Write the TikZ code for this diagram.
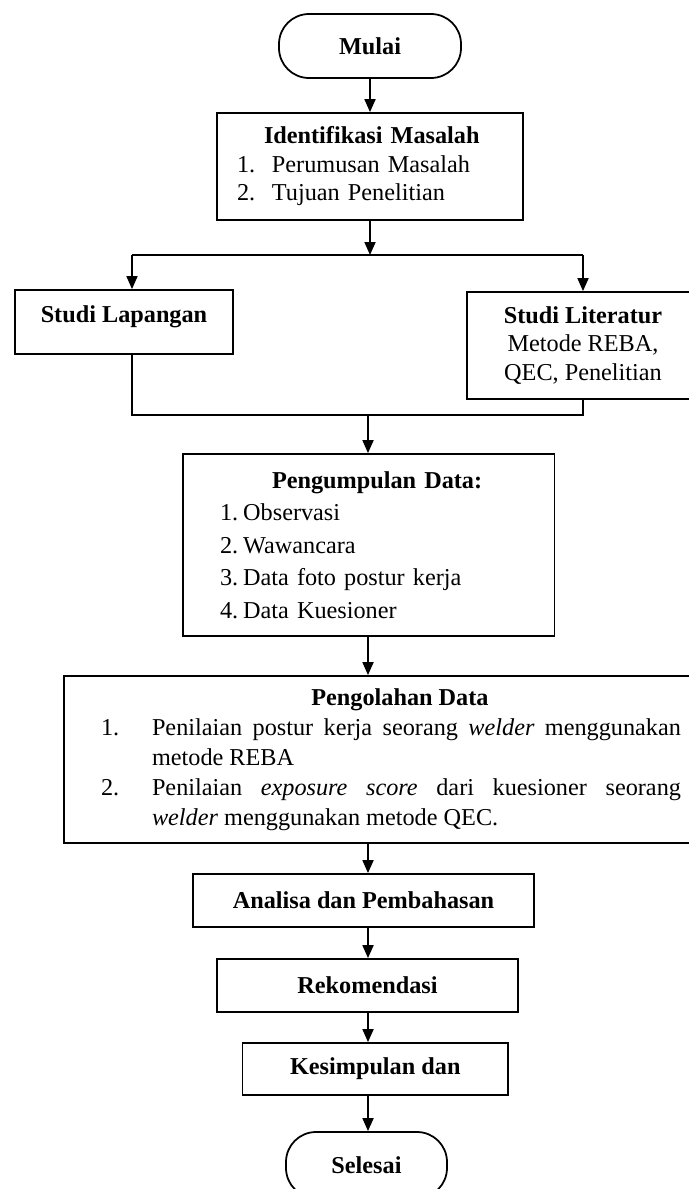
\documentclass[tikz,border=0pt]{standalone}
\usepackage{fontspec}
\setmainfont{Liberation Serif}
\usetikzlibrary{arrows.meta}

\begin{document}
\begin{tikzpicture}[>={Triangle[length=0.26cm,width=0.22cm]},line width=1pt,
  font=\fontsize{13.8}{16.2}\selectfont,
  box/.style={shape=rectangle,draw=black,inner sep=0pt},
  term/.style={box,rounded corners=0.6cm}]
\useasboundingbox (0,0) rectangle (13.78,-23.78);
\node[term,minimum width=3.64cm,minimum height=1.28cm] (1) at (7.40,-0.92) {\textbf{Mulai}};
\node[box,minimum width=6.12cm,minimum height=2.14cm,text width=5.32cm,align=left] (2) at (7.40,-3.33)
  {\hspace*{0.54cm}\textbf{Identifikasi Masalah}\\\makebox[0.7cm][l]{1.}Perumusan Masalah\\\makebox[0.7cm][l]{2.}Tujuan Penelitian};
\node[box,minimum width=4.36cm,minimum height=1.28cm,text depth=0.3cm] (3) at (2.48,-6.44) {\textbf{Studi Lapangan}};
\node[box,minimum width=4.64cm,minimum height=2.14cm,align=center] (4) at (11.66,-6.91)
  {\textbf{Studi Literatur}\\Metode REBA,\\QEC, Penelitian};
\node[box,minimum width=7.43cm,minimum height=3.64cm,text width=5.95cm,align=left,font=\fontsize{13.8}{18.5}\selectfont] (5) at (7.375,-10.90)
  {\hspace*{1.04cm}\textbf{Pengumpulan Data:}\\1.\hspace{0.1cm}Observasi\\2.\hspace{0.1cm}Wawancara\\3.\hspace{0.1cm}Data foto postur kerja\\4.\hspace{0.1cm}Data Kuesioner};
\node[box,minimum width=13.08cm,minimum height=3.34cm,text width=11.6cm,align=justify,font=\fontsize{13.8}{17}\selectfont] (6) at (7.82,-15.19)
  {{\centering\hspace*{0.36cm}\textbf{Pengolahan Data}\par}
   \hangindent=1.02cm\hangafter=1\noindent\makebox[1.02cm][l]{1.}Penilaian postur kerja seorang \textit{welder} menggunakan\linebreak metode REBA\par
   \hangindent=1.02cm\hangafter=1\noindent\makebox[1.02cm][l]{2.}Penilaian \textit{exposure score} dari kuesioner seorang\linebreak \textit{welder} menggunakan metode QEC.\par};
\node[box,minimum width=6.82cm,minimum height=1.06cm] (7) at (7.27,-18.01) {\textbf{Analisa dan Pembahasan}};
\node[box,minimum width=6.02cm,minimum height=1.06cm] (8) at (7.35,-19.71) {\textbf{Rekomendasi}};
\node[box,minimum width=5.31cm,minimum height=1.04cm] (9) at (7.505,-21.38) {\textbf{Kesimpulan dan}};
\node[term,minimum width=3.22cm,minimum height=1.32cm] (10) at (7.33,-23.30) {\textbf{Selesai}};
% titik cabang dan gabung
\coordinate (a) at (7.40,-5.10);
\coordinate (c) at (2.64,-5.10);
\coordinate (d) at (11.66,-5.10);
\coordinate (b) at (7.36,-8.30);
\draw[->] (1) -- (2);
\draw[->] (2) -- (a);
\draw (c) -- (d);
\draw[->] (c) -- (c |- 3.north);
\draw[->] (d) -- (4);
\draw (c |- 3.south) -- (c |- b) -- (4.south |- b) -- (4.south);
\draw[->] (b) -- (b |- 5.north);
\draw[->] (b |- 5.south) -- (b |- 6.north);
\draw[->] (b |- 6.south) -- (b |- 7.north);
\draw[->] (b |- 7.south) -- (b |- 8.north);
\draw[->] (b |- 8.south) -- (b |- 9.north);
\draw[->] (b |- 9.south) -- (b |- 10.north);
\end{tikzpicture}
\end{document}
